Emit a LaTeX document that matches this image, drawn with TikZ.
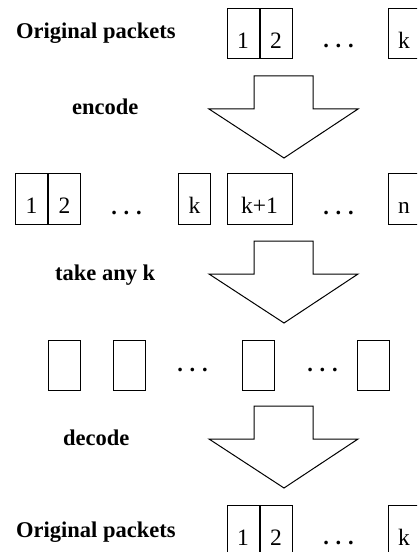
\documentclass[tikz,border=0pt]{standalone}
\usepackage{fontspec}
\setmainfont{Liberation Serif}
\usetikzlibrary{positioning}
\newcommand\pktdots{\textbf{.\hspace{0.3em}.\hspace{0.3em}.}}
\tikzset{
  pkt/.style={draw, line width=1bp, minimum width=32bp, minimum height=50bp,
    inner sep=0pt, text height=38bp, text depth=8bp,
    font=\fontsize{23.5bp}{28bp}\selectfont},
  lbl/.style={font=\bfseries, inner sep=0pt, anchor=base west},
  dots/.style={inner sep=0pt, anchor=base},
  bigarrow/.style={draw, line width=1bp, line join=miter},
}
\begin{document}
\fontsize{22.5bp}{27bp}\selectfont
\begin{tikzpicture}[x=1bp, y=-1bp]
        \useasboundingbox (0,0) rectangle (417,552);
        \clip (0,0) rectangle (417,552);
        % Original packets (top)
        \node[lbl] (origtop) at (16,39) {Original packets};
        \node[pkt] (o1) at (243,34) {1};
        \node[pkt, right=0pt of o1] (o2) {2};
        \node[dots] (odots) at (338.5,48) {\pktdots};
        \node[pkt] (ok) at (404,34) {k};
        % Encoded packets
        \node[pkt] (c1) at (31.5,199) {1};
        \node[pkt, right=0pt of c1] (c2) {2};
        \node[dots] (cdots1) at (126.5,215) {\pktdots};
        \node[pkt] (ck) at (194.5,199) {k};
        \node[pkt, minimum width=65bp] (ckk) at (259.5,199) {k+1};
        \node[dots] (cdots2) at (338.5,215) {\pktdots};
        \node[pkt] (cn) at (404,199) {n};
        % Any k received packets
        \node[pkt] (r1) at (64.5,365.5) {};
        \node[pkt] (r2) at (129,365.5) {};
        \node[dots] (rdots1) at (192.5,371) {\pktdots};
        \node[pkt] (r3) at (258.5,365.5) {};
        \node[dots] (rdots2) at (322.5,371) {\pktdots};
        \node[pkt] (r4) at (373,365.5) {};
        % Original packets (bottom)
        \node[lbl] (origbot) at (16,537) {Original packets};
        \node[pkt] (d1) at (243,530) {1};
        \node[pkt, right=0pt of d1] (d2) {2};
        \node[dots] (ddots) at (338.5,544) {\pktdots};
        \node[pkt] (dk) at (404,530) {k};
        % Block arrows with their labels
        \foreach \t/\txt/\tx [count=\i] in {76/encode/72, 241/take any k/55, 406/decode/63} {
            \draw[bigarrow] (254,\t) -- (313,\t) -- (313,\t+33) -- (358,\t+33)
                -- (284,\t+82) -- (209,\t+33) -- (254,\t+33) -- cycle;
            \node[lbl] (stage\i) at (\tx,\t+39) {\txt};
        }
\end{tikzpicture}
\end{document}
